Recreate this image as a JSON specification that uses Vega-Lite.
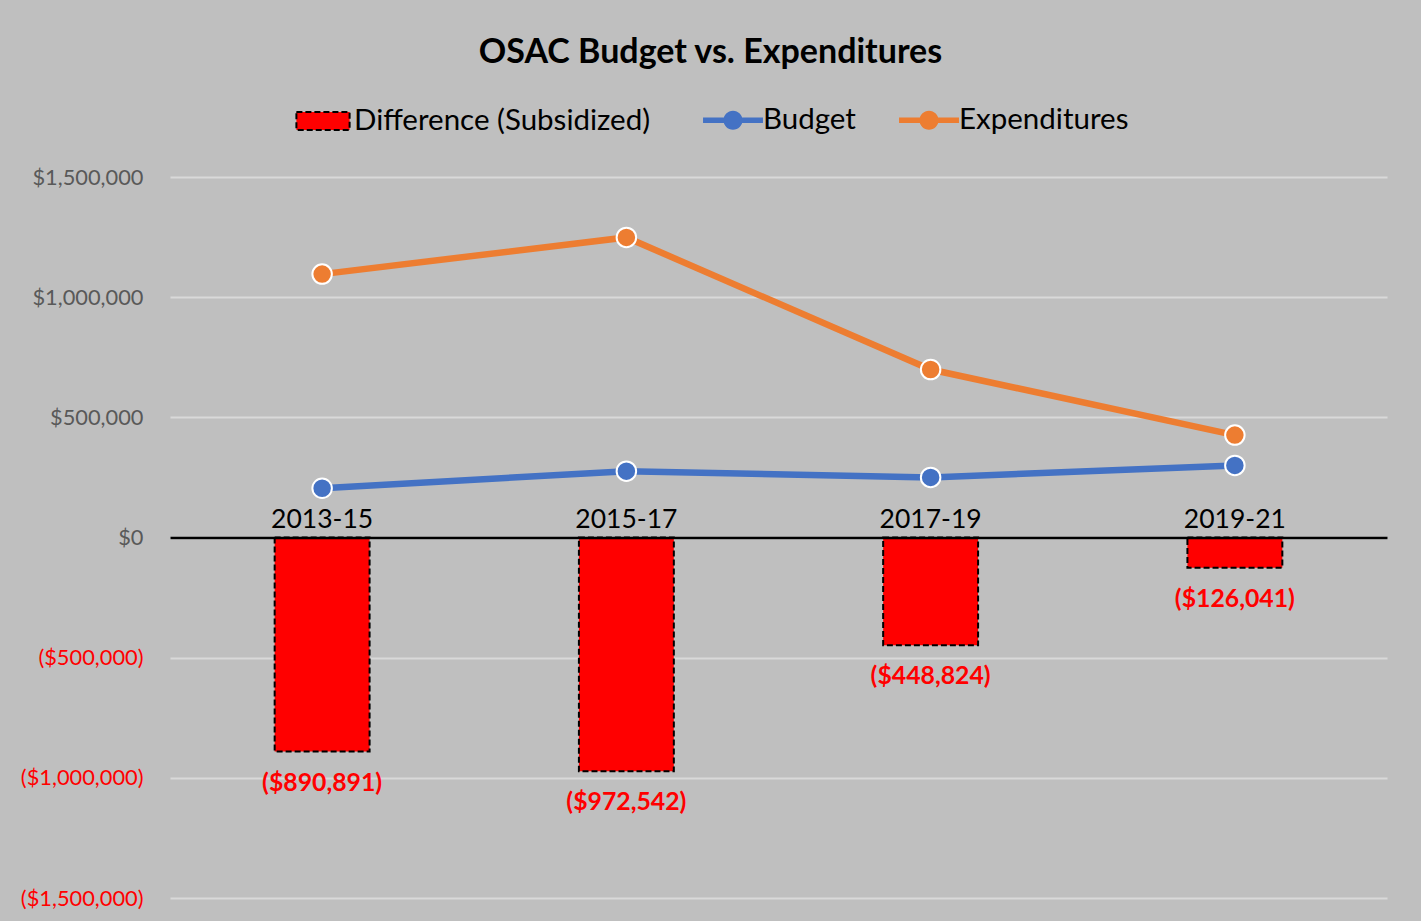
{
  "$schema": "https://vega.github.io/schema/vega-lite/v6.json",
  "autosize": "none",
  "width": 1217,
  "height": 721,
  "padding": {"left": 170, "top": 177, "right": 34, "bottom": 23},
  "background": "#BFBFBF",
  "title": {
    "text": "OSAC Budget vs. Expenditures",
    "font": "Lato",
    "fontSize": 34,
    "fontWeight": "bold",
    "color": "black",
    "anchor": "middle",
    "frame": "group",
    "dx": -68,
    "offset": 22
  },
  "data": {
    "values": [
      {"period": "2013-15", "series": "Difference (Subsidized)", "value": -890891},
      {"period": "2015-17", "series": "Difference (Subsidized)", "value": -972542},
      {"period": "2017-19", "series": "Difference (Subsidized)", "value": -448824},
      {"period": "2019-21", "series": "Difference (Subsidized)", "value": -126041},
      {"period": "2013-15", "series": "Budget", "value": 205000},
      {"period": "2015-17", "series": "Budget", "value": 276000},
      {"period": "2017-19", "series": "Budget", "value": 250000},
      {"period": "2019-21", "series": "Budget", "value": 300000},
      {"period": "2013-15", "series": "Expenditures", "value": 1095891},
      {"period": "2015-17", "series": "Expenditures", "value": 1248542},
      {"period": "2017-19", "series": "Expenditures", "value": 698824},
      {"period": "2019-21", "series": "Expenditures", "value": 426041}
    ]
  },
  "encoding": {
    "x": {
      "field": "period",
      "type": "nominal",
      "sort": null,
      "scale": {"paddingInner": 0, "paddingOuter": 0},
      "axis": {
        "orient": "top",
        "offset": -360.5,
        "title": null,
        "labelAngle": 0,
        "labelFont": "Lato",
        "labelFontSize": 26.5,
        "labelColor": "black",
        "labelPadding": 4,
        "ticks": false,
        "grid": false,
        "domainColor": "black",
        "domainWidth": 2.5,
        "zindex": 1
      }
    },
    "y": {
      "field": "value",
      "type": "quantitative",
      "scale": {"domain": [-1500000, 1500000], "nice": false},
      "axis": {
        "title": null,
        "values": [-1500000, -1000000, -500000, 0, 500000, 1000000, 1500000],
        "format": "($,.0f",
        "labelFont": "Lato",
        "labelFontSize": 21.8,
        "labelColor": {"condition": {"test": "datum.value < 0", "value": "#FF0000"}, "value": "#595959"},
        "labelPadding": 27,
        "ticks": false,
        "domain": false,
        "gridColor": "#D9D9D9",
        "gridWidth": 2
      }
    }
  },
  "layer": [
    {
      "transform": [{"filter": "datum.series === 'Difference (Subsidized)'"}],
      "mark": {"type": "bar", "width": {"band": 0.312}, "stroke": "black", "strokeWidth": 2, "strokeDash": [6, 3], "opacity": 1},
      "encoding": {
        "fill": {
          "field": "series",
          "type": "nominal",
          "scale": {"domain": ["Difference (Subsidized)"], "range": ["#FF0000"]},
          "legend": {
            "orient": "none",
            "legendX": 124,
            "legendY": -85,
            "direction": "horizontal",
            "title": null,
            "symbolType": "M-0.95,-0.32H0.95V0.32H-0.95Z",
            "symbolSize": 3136,
            "symbolStrokeColor": "black",
            "symbolStrokeWidth": 2,
            "symbolDash": [6, 3],
            "symbolOpacity": 1,
            "labelFont": "Lato",
            "labelFontSize": 29.5,
            "labelColor": "black",
            "labelLimit": 1000,
            "labelOffset": 2
          }
        }
      }
    },
    {
      "transform": [{"filter": "datum.series === 'Difference (Subsidized)'"}],
      "mark": {"type": "text", "baseline": "top", "dy": 19, "font": "Lato", "fontSize": 24.8, "fontWeight": "bold", "color": "#FF0000"},
      "encoding": {"text": {"field": "value", "type": "quantitative", "format": "($,.0f"}}
    },
    {
      "transform": [{"filter": "datum.series !== 'Difference (Subsidized)'"}],
      "mark": {"type": "line", "strokeWidth": 6.5},
      "encoding": {
        "color": {
          "field": "series",
          "type": "nominal",
          "scale": {"domain": ["Budget", "Expenditures"], "range": ["#4472C4", "#ED7D31"]},
          "legend": {
            "orient": "none",
            "legendX": 535,
            "legendY": -85,
            "direction": "horizontal",
            "title": null,
            "symbolType": "M-1.07,-0.1H-0.3V0.1H-1.07Z M0.3,-0.1H1.07V0.1H0.3Z M0.34,0A0.34,0.34,0,1,1,-0.34,0A0.34,0.34,0,1,1,0.34,0Z",
            "symbolSize": 3136,
            "symbolStrokeWidth": 0,
            "symbolOpacity": 1,
            "labelFont": "Lato",
            "labelFontSize": 29.5,
            "labelColor": "black",
            "labelLimit": 1000,
            "labelOffset": 2,
            "columnPadding": 43
          }
        }
      }
    },
    {
      "transform": [{"filter": "datum.series !== 'Difference (Subsidized)'"}],
      "mark": {"type": "point", "filled": true, "size": 380, "stroke": "white", "strokeWidth": 2, "opacity": 1},
      "encoding": {
        "color": {"field": "series", "type": "nominal"}
      }
    }
  ],
  "config": {
    "view": {"stroke": null}
  }
}
